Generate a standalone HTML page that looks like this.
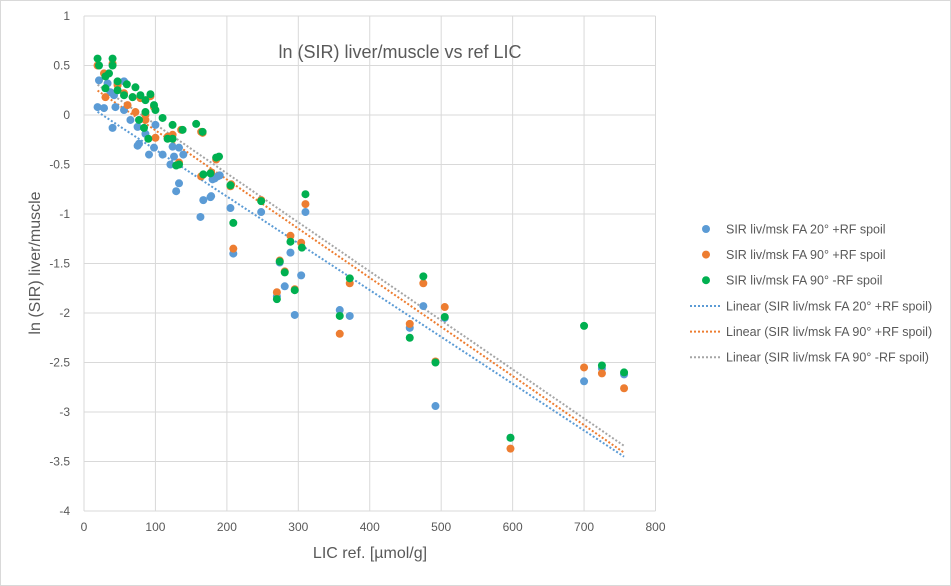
<!DOCTYPE html>
<html><head><meta charset="utf-8">
<style>
html,body{margin:0;padding:0;background:#fff;}
svg{display:block;font-family:"Liberation Sans",sans-serif;}
</style></head>
<body>
<svg id="chart" width="951" height="586" viewBox="0 0 951 586">
<rect x="0.5" y="0.5" width="950" height="585" fill="#fff" stroke="#d9d9d9"/>
<g id="grid"></g>
<g id="axes"></g>
<g id="trends"></g>
<g id="marks"></g>
<text x="400" y="58" font-size="18" fill="#595959" text-anchor="middle">ln (SIR) liver/muscle vs ref LIC</text>
<text transform="translate(40,263) rotate(-90)" font-size="16" fill="#595959" text-anchor="middle">ln (SIR) liver/muscle</text>
<text x="370" y="558" font-size="16" fill="#595959" text-anchor="middle">LIC ref. [µmol/g]</text>
<g id="legend"></g>
</svg>
<script>
const xTicks=[0,100,200,300,400,500,600,700,800];
const yTicks=[1,0.5,0,-0.5,-1,-1.5,-2,-2.5,-3,-3.5,-4];
const blueX=[163,167,177,183,190,205,209,248,310,289,304,274,281,295,270,358,372,475,505,456,492,700,725,756,597,
 21,19,28,44,40,47,42,56,65,75,86,100,77,75,98,91,110,124,133,126,139,121,133,129,178,187,180,33,37,56];
const blueY=[-1.03,-0.86,-0.83,-0.64,-0.61,-0.94,-1.40,-0.98,-0.98,-1.39,-1.62,-1.49,-1.73,-2.02,-1.83,-1.97,-2.03,-1.93,-2.05,-2.15,-2.94,-2.69,-2.56,-2.62,-3.26,
 0.35,0.08,0.07,0.08,-0.13,0.32,0.20,0.05,-0.05,-0.12,-0.19,-0.10,-0.29,-0.31,-0.33,-0.40,-0.40,-0.32,-0.33,-0.42,-0.40,-0.50,-0.69,-0.77,-0.82,-0.62,-0.65,0.32,0.23,0.34];
const orangeX=[164,205,209,248,310,289,304,274,281,295,270,372,358,475,505,456,492,597,700,725,756,
 19,28,30,61,72,86,100,86,136,164,166,40,47,56,68,79,93,98,117,124,133,185,178,206];
const orangeY=[-0.62,-0.72,-1.35,-0.86,-0.90,-1.22,-1.29,-1.47,-1.58,-1.76,-1.79,-1.70,-2.21,-1.70,-1.94,-2.11,-2.49,-3.37,-2.55,-2.61,-2.76,
 0.50,0.42,0.18,0.10,0.03,-0.05,-0.23,0.00,-0.15,-0.17,-0.18,0.52,0.30,0.22,0.18,0.17,0.19,0.08,-0.22,-0.20,-0.48,-0.45,-0.58,-0.70];
const greenX=[167,177,205,209,248,310,289,305,274,281,295,270,372,358,475,505,456,492,597,700,725,756,
 19,40,21,40,35,30,47,60,30,47,72,56,68,79,93,86,98,100,86,110,77,84,124,138,157,166,90,117,124,129,133,185,189];
const greenY=[-0.60,-0.59,-0.71,-1.09,-0.87,-0.80,-1.28,-1.34,-1.48,-1.59,-1.77,-1.86,-1.65,-2.03,-1.63,-2.04,-2.25,-2.50,-3.26,-2.13,-2.53,-2.60,
 0.57,0.57,0.50,0.50,0.42,0.39,0.34,0.31,0.27,0.25,0.28,0.20,0.18,0.20,0.21,0.15,0.10,0.05,0.03,-0.03,-0.05,-0.13,-0.10,-0.15,-0.09,-0.17,-0.24,-0.24,-0.24,-0.51,-0.50,-0.43,-0.42];
const seriesNames=["SIR liv/msk FA 20° +RF spoil","SIR liv/msk FA 90° +RF spoil","SIR liv/msk FA 90° -RF spoil"];

const NS="http://www.w3.org/2000/svg";
const X0=84,X1=655.5,Y0=16,Y1=511;
const sx=v=>X0+(v-0)/(800-0)*(X1-X0);
const sy=v=>Y0+(1-v)/(1-(-4))*(Y1-Y0);
function mk(tag,attrs,parent){const e=document.createElementNS(NS,tag);for(const k in attrs)e.setAttribute(k,attrs[k]);parent.appendChild(e);return e;}
const grid=document.getElementById('grid'),axes=document.getElementById('axes');
xTicks.forEach(t=>{
 const l=mk('line',{x1:sx(t),x2:sx(t),y1:Y0,y2:Y1,stroke:'#d9d9d9','stroke-width':1},grid);
 
 
 const tx=mk('text',{x:sx(t),y:Y1+20,'font-size':12,fill:'#595959','text-anchor':'middle'},axes);
 tx.textContent=t;
 
 
});
yTicks.forEach(t=>{
 const l=mk('line',{x1:X0,x2:X1,y1:sy(t),y2:sy(t),stroke:'#d9d9d9','stroke-width':1},grid);
 
 
 const tx=mk('text',{x:70,y:sy(t)+4,'font-size':12,fill:'#595959','text-anchor':'end'},axes);
 tx.textContent=t;
 
 
});
const colors=['#5B9BD5','#ED7D31','#00B050'];
const trendColors=['#5B9BD5','#ED7D31','#A5A5A5'];
const data=[[blueX,blueY],[orangeX,orangeY],[greenX,greenY]];
const marks=document.getElementById('marks'),trends=document.getElementById('trends');
data.forEach((d,i)=>{
 const g=mk('g',{},marks);
 
 
 d[0].forEach((x,j)=>{
  const c=mk('circle',{cx:sx(x),cy:sy(d[1][j]),r:4,fill:colors[i]},g);
  
  
 });
});
data.forEach((d,i)=>{
 const xs=d[0],ys=d[1],n=xs.length;
 let mx=0,my=0;for(let j=0;j<n;j++){mx+=xs[j];my+=ys[j];}mx/=n;my/=n;
 let sxy=0,sxx=0;for(let j=0;j<n;j++){sxy+=(xs[j]-mx)*(ys[j]-my);sxx+=(xs[j]-mx)**2;}
 const b=sxy/sxx,a=my-b*mx;
 const xmin=Math.min(...xs),xmax=Math.max(...xs);
 const l=mk('line',{x1:sx(xmin),y1:sy(a+b*xmin),x2:sx(xmax),y2:sy(a+b*xmax),stroke:trendColors[i],'stroke-width':2,'stroke-dasharray':'2 2'},trends);
 
 
});
const lg=document.getElementById('legend');
seriesNames.forEach((s,i)=>{
 const y=229+i*25.6;
 const c=mk('circle',{cx:706,cy:y,r:4,fill:colors[i]},lg);
 
 
 const t=mk('text',{x:726,y:y+4.5,'font-size':12.5,fill:'#595959'},lg);
 t.textContent=s;
 
 
});
seriesNames.forEach((s,i)=>{
 const y=306+i*25.6;
 const l=mk('line',{x1:690,x2:722,y1:y,y2:y,stroke:trendColors[i],'stroke-width':2,'stroke-dasharray':'2 2'},lg);
 
 
 const t=mk('text',{x:726,y:y+4.5,'font-size':12.5,fill:'#595959'},lg);
 t.textContent='Linear ('+s+')';
 
 
});
</script>
</body></html>
